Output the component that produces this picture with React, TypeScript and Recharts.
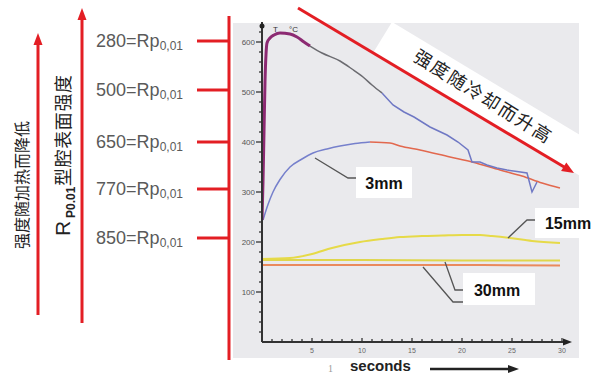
import { LineChart, Line, XAxis, YAxis } from 'recharts';

// ==========================================
// DATA (seconds / °C)
// ==========================================

// surface temperature: rise (magenta), fall (gray), later fall (blue)
const riseT = [0, 0.1, 0.2, 0.3, 0.4, 0.5, 0.8, 1.2, 1.8, 2.8, 3.5, 4.2, 4.8];
const riseV = [244, 320, 420, 520, 575, 598, 608, 614, 618, 616, 610, 600, 592];

const fallT = [4.8, 6, 7.8, 9, 10.1, 11, 12];
const fallV = [592, 578, 562, 546, 530, 514, 498];

const coolT = [12, 13.1, 14.2, 15.2, 16.8, 18.5, 19.6, 20.6, 21, 21.8, 22.5, 23.5, 24.5, 25.5, 26.5, 27, 27.5];
const coolV = [498, 474, 460, 450, 430, 414, 400, 384, 360, 360, 354, 348, 344, 341, 338, 300, 320];

// 3mm depth
const d3UpT = [0.1, 0.6, 1.1, 1.8, 2.8, 4, 5.1, 6.5, 7.8, 9.3, 10.8];
const d3UpV = [244, 275, 300, 325, 350, 366, 378, 386, 392, 397, 400];
const d3DownT = [10.8, 12.8, 13.8, 15.8, 18.8, 21, 23.8, 26, 28, 29.8];
const d3DownV = [400, 398, 392, 384, 370, 360, 344, 332, 318, 308];

// 15mm depth
const d15T = [0, 2.8, 5, 7, 9.8, 12, 13.8, 16, 18, 20, 21.8, 23, 24.8, 27, 29.8];
const d15V = [166, 168, 176, 188, 200, 206, 210, 212, 213, 214, 214, 212, 208, 202, 198];

// 30mm depth (two traces)
const d30aT = [0, 10, 20, 29.8];
const d30aV = [164, 164, 163, 163];
const d30bT = [0, 10, 20, 29.8];
const d30bV = [154, 154, 154, 153];

// outer strength scale
const rpTemps = [602, 504, 400, 306, 208];
const rpStrength = ['280', '500', '650', '770', '850'];

const yTicks = [20, 40, 60, 80, 100, 120, 140, 160, 180, 200, 220, 240, 260, 280, 300, 320, 340, 360, 380, 400, 420, 440, 460, 480, 500, 520, 540, 560, 580, 600, 620];
const xTicks = [1, 2, 3, 4, 5, 6, 7, 8, 9, 10, 11, 12, 13, 14, 15, 16, 17, 18, 19, 20, 21, 22, 23, 24, 25, 26, 27, 28, 29, 30];

const pts = (t: number[], v: number[]) => t.map((x, i) => ({ t: x, v: v[i] }));

const RED = '#e31e24';
const SANS = '"Liberation Sans", Arial, sans-serif';
const CJK = '"Noto Sans CJK SC", sans-serif';

// ==========================================
// TICKS
// ==========================================

function TempTick({ x, y, payload }: any) {
  const v = payload.value;
  const major = v % 100 === 0;
  return (
    <g>
      <line x1={x - (major ? 6 : 3)} y1={y} x2={x} y2={y} stroke="#333" strokeWidth={1.3} />
      {major && (
        <text x={x - 7} y={y} dy={3} textAnchor="end" fontSize={8} fill="#555" fontFamily={SANS}>
          {v}
        </text>
      )}
    </g>
  );
}

function SecTick({ x, y, payload }: any) {
  const v = payload.value;
  const major = v % 5 === 0;
  return (
    <g>
      <line x1={x} y1={y - (major ? 4 : 3)} x2={x} y2={y + 1} stroke="#333" strokeWidth={1.3} />
      {major && (
        <text x={x} y={y + 11} textAnchor="middle" fontSize={7} fill="#666" fontFamily={SANS}>
          {v}
        </text>
      )}
    </g>
  );
}

function RpTick({ x, y, payload }: any) {
  const i = rpTemps.indexOf(payload.value);
  return (
    <g>
      <line x1={x - 32} y1={y} x2={x} y2={y} stroke={RED} strokeWidth={3} />
      <text x={x - 46} y={y + 6} textAnchor="end" fontSize={18} fill="#5a5a5a" fontFamily={SANS}>
        {rpStrength[i]}=Rp
        <tspan fontSize={12} dy={3}>0,01</tspan>
      </text>
    </g>
  );
}

// ==========================================
// CHART
// ==========================================

export default function App() {
  return (
    <div style={{ position: 'absolute', left: 0, top: 0, width: 601, height: 384, background: '#fff', overflow: 'hidden' }}>

      {/* BACKGROUND */}
      <svg width={601} height={384} style={{ position: 'absolute', left: 0, top: 0 }}>
        <rect x={233} y={23} width={346} height={335} fill="#eaeaed" />
        <polygon points="373,53 392,22 600,147 582,177" fill="#ffffff" />
      </svg>

      {/* PLOT */}
      <div style={{ position: 'absolute', left: 0, top: 0 }}>
        <LineChart width={601} height={384} margin={{ top: 22, right: 33, bottom: 0, left: 0 }}>
          <XAxis
            type="number"
            dataKey="t"
            domain={[0, 30.6]}
            allowDataOverflow
            ticks={xTicks}
            interval={0}
            height={42}
            tickSize={0}
            tickMargin={0}
            tickLine={false}
            axisLine={{ stroke: '#333', strokeWidth: 2 }}
            tick={<SecTick />}
          />
          {/* inner temperature axis (next to the plot) */}
          <YAxis
            yAxisId="a"
            type="number"
            domain={[0, 640]}
            allowDataOverflow
            ticks={yTicks}
            interval={0}
            width={33}
            tickSize={0}
            tickMargin={0}
            tickLine={false}
            axisLine={{ stroke: '#333', strokeWidth: 2 }}
            tick={<TempTick />}
          />
          {/* outer strength scale */}
          <YAxis
            yAxisId="b"
            type="number"
            domain={[0, 640]}
            allowDataOverflow
            ticks={rpTemps}
            interval={0}
            width={229}
            tickSize={0}
            tickMargin={0}
            tickLine={false}
            axisLine={false}
            tick={<RpTick />}
          />

          <Line yAxisId="a" data={pts(d30bT, d30bV)} dataKey="v" type="monotone" stroke="#ea8a5c" strokeWidth={2} dot={false} isAnimationActive={false} />
          <Line yAxisId="a" data={pts(d30aT, d30aV)} dataKey="v" type="monotone" stroke="#dfd64c" strokeWidth={2} dot={false} isAnimationActive={false} />
          <Line yAxisId="a" data={pts(d15T, d15V)} dataKey="v" type="monotone" stroke="#e6da48" strokeWidth={2} dot={false} isAnimationActive={false} />
          <Line yAxisId="a" data={pts(d3UpT, d3UpV)} dataKey="v" type="monotone" stroke="#7680cc" strokeWidth={1.5} dot={false} isAnimationActive={false} />
          <Line yAxisId="a" data={pts(d3DownT, d3DownV)} dataKey="v" type="monotone" stroke="#e2684e" strokeWidth={1.5} dot={false} isAnimationActive={false} />
          <Line yAxisId="a" data={pts(coolT, coolV)} dataKey="v" type="linear" stroke="#6f78c4" strokeWidth={1.5} dot={false} isAnimationActive={false} />
          <Line yAxisId="a" data={pts(fallT, fallV)} dataKey="v" type="monotone" stroke="#6b6b70" strokeWidth={1.5} dot={false} isAnimationActive={false} />
          <Line yAxisId="a" data={pts(riseT, riseV)} dataKey="v" type="monotone" stroke="#8c2a72" strokeWidth={3} dot={false} isAnimationActive={false} />
        </LineChart>
      </div>

      {/* ANNOTATIONS */}
      <svg width={601} height={384} style={{ position: 'absolute', left: 0, top: 0, pointerEvents: 'none' }}>

        {/* outer strength axis line */}
        <line x1={229} y1={16} x2={229} y2={360} stroke={RED} strokeWidth={3} />

        {/* left arrows */}
        <line x1={38} y1={315} x2={38} y2={42} stroke={RED} strokeWidth={3} />
        <polygon points="38,33 33.5,45 42.5,45" fill={RED} />
        <line x1={82} y1={323} x2={82} y2={17} stroke={RED} strokeWidth={3} />
        <polygon points="82,8 77.5,20 86.5,20" fill={RED} />

        <text transform="translate(28,185) rotate(-90)" textAnchor="middle" fontSize={16} fill="#222" fontFamily={CJK}>
          强度随加热而降低
        </text>
        <text transform="translate(70,236) rotate(-90)" fontSize={21} fill="#222" fontFamily={SANS}>R</text>
        <text transform="translate(75,218) rotate(-90)" fontSize={12} fontWeight="bold" fill="#222" fontFamily={SANS}>P0.01</text>
        <text transform="translate(70,186) rotate(-90)" fontSize={18} letterSpacing={0.6} fill="#222" fontFamily={CJK}>
          型腔表面强度
        </text>

        {/* diagonal arrow */}
        <line x1={298} y1={8} x2={565} y2={167.5} stroke={RED} strokeWidth={3} />
        <polygon points="574,173 561.1,171.1 566.3,162.5" fill={RED} />
        <text transform="translate(483,97) rotate(32)" textAnchor="middle" dy={6} fontSize={18} letterSpacing={2} fill="#222" fontFamily={CJK}>
          强度随冷却而升高
        </text>

        {/* axis ends */}
        <circle cx={262} cy={26} r={2.5} fill="#222" />
        <polygon points="572,342 563,338.5 563,345.5" fill="#222" />
        <text x={273} y={32} fontSize={8} fill="#333" fontFamily={SANS}>T</text>
        <text x={289} y={32} fontSize={8} fill="#333" fontFamily={SANS}>°C</text>

        {/* depth labels */}
        <polyline points="315,158 348,178 356,178" fill="none" stroke="#555" strokeWidth={1.3} />
        <rect x={356} y={167} width={56} height={31} fill="#fff" />
        <text x={384} y={189} textAnchor="middle" fontSize={16} fontWeight="bold" fill="#111" fontFamily={SANS}>3mm</text>

        <polyline points="508,238 527,220 535,220" fill="none" stroke="#555" strokeWidth={1.3} />
        <rect x={535} y={208} width={62} height={30} fill="#fff" />
        <text x={568} y={229} textAnchor="middle" fontSize={16} fontWeight="bold" fill="#111" fontFamily={SANS}>15mm</text>

        <polyline points="423,267 453,302 463,302" fill="none" stroke="#555" strokeWidth={1.3} />
        <polyline points="445,262 455,290 463,290" fill="none" stroke="#555" strokeWidth={1.3} />
        <rect x={463} y={273} width={72} height={32} fill="#fff" />
        <text x={497} y={296} textAnchor="middle" fontSize={16} fontWeight="bold" fill="#111" fontFamily={SANS}>30mm</text>

        {/* x title */}
        <text x={328} y={372} fontSize={10} fill="#999" fontFamily="serif">1</text>
        <text x={350} y={371} fontSize={15} fontWeight="bold" fill="#222" fontFamily={SANS}>seconds</text>
        <line x1={430} y1={369} x2={510} y2={369} stroke="#222" strokeWidth={2.5} />
        <polygon points="519,369 508,365 508,373" fill="#222" />
      </svg>
    </div>
  );
}
